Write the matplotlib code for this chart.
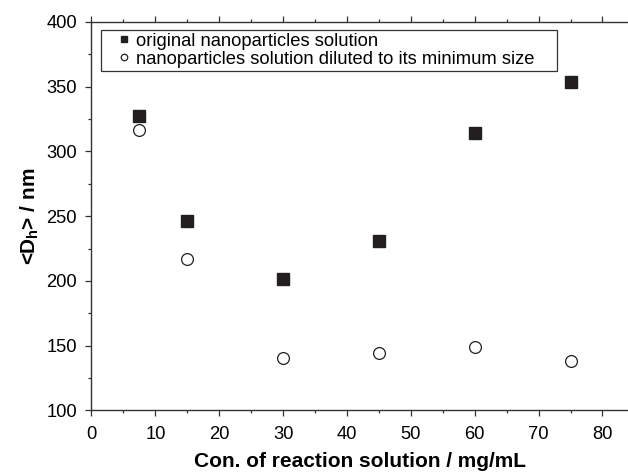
import matplotlib
matplotlib.use("Agg")
import matplotlib.pyplot as plt
from matplotlib.ticker import MultipleLocator
from matplotlib.patches import Rectangle

plt.rcParams['font.family'] = ['Liberation Sans', 'DejaVu Sans']
plt.rcParams['mathtext.fontset'] = 'custom'
plt.rcParams['mathtext.rm'] = 'Liberation Sans:bold'
plt.rcParams['mathtext.it'] = 'Liberation Sans:bold'
plt.rcParams['mathtext.bf'] = 'Liberation Sans:bold'

conc = [7.5, 15, 30, 45, 60, 75]
original = [327.4, 246.3, 201.8, 230.6, 314.5, 354.0]
diluted = [316.5, 217.2, 140.8, 144.4, 149.3, 138.2]
labels = ["original nanoparticles solution",
          "nanoparticles solution diluted to its minimum size"]

fig = plt.figure(figsize=(6.28, 4.73), dpi=100)
ax = fig.add_axes([0.1457, 0.1325, 0.8543, 0.821])
dark = '#231f20'
ax.plot(conc, original, linestyle='none', marker='s', markersize=8,
        color=dark, label=labels[0])
ax.plot(conc, diluted, linestyle='none', marker='o', markersize=8.5,
        markerfacecolor='white', markeredgecolor=dark, markeredgewidth=0.9,
        label=labels[1])

ax.set_xlim(0, 84)
ax.set_ylim(100, 400)
ax.xaxis.set_major_locator(MultipleLocator(10))
ax.xaxis.set_minor_locator(MultipleLocator(5))
ax.yaxis.set_major_locator(MultipleLocator(50))
ax.yaxis.set_minor_locator(MultipleLocator(25))
ax.tick_params(which='both', direction='out', top=True, right=False,
               labelsize=13.2, color='#333333', width=0.9)
ax.tick_params(axis='x', which='both', pad=7.0)
ax.tick_params(axis='y', which='both', pad=6.3)
ax.tick_params(which='major', length=4.3)
ax.tick_params(which='minor', length=2.3)
for s in ['left', 'bottom', 'top']:
    ax.spines[s].set_linewidth(1.0)
    ax.spines[s].set_color('#333333')
ax.spines['right'].set_visible(False)

ax.set_xlabel('Con. of reaction solution / mg/mL', fontsize=15,
              fontweight='bold', labelpad=6.5)
ax.set_ylabel(r'<D$_{h}$> / nm', fontsize=15, fontweight='bold', labelpad=4)

leg = ax.legend(loc='upper left', bbox_to_anchor=(0.0467, 0.977), fontsize=13.2,
                frameon=False, markerscale=0.55, handlelength=0.6,
                handletextpad=0.35, borderpad=0.1, labelspacing=0.05,
                borderaxespad=0.0)

fig.canvas.draw()
bb = leg.get_window_extent(fig.canvas.get_renderer())
W, H = fig.bbox.width, fig.bbox.height
padx_l, padx_r, pady = 16, 21, 1
rect = Rectangle(((bb.x0 - padx_l) / W, (bb.y0 - pady) / H),
                 (bb.width + padx_l + padx_r) / W, (bb.height + 2 * pady) / H,
                 transform=fig.transFigure, fill=False,
                 edgecolor='#333333', linewidth=0.9)
fig.add_artist(rect)

fig.savefig('out.png', dpi=100)
